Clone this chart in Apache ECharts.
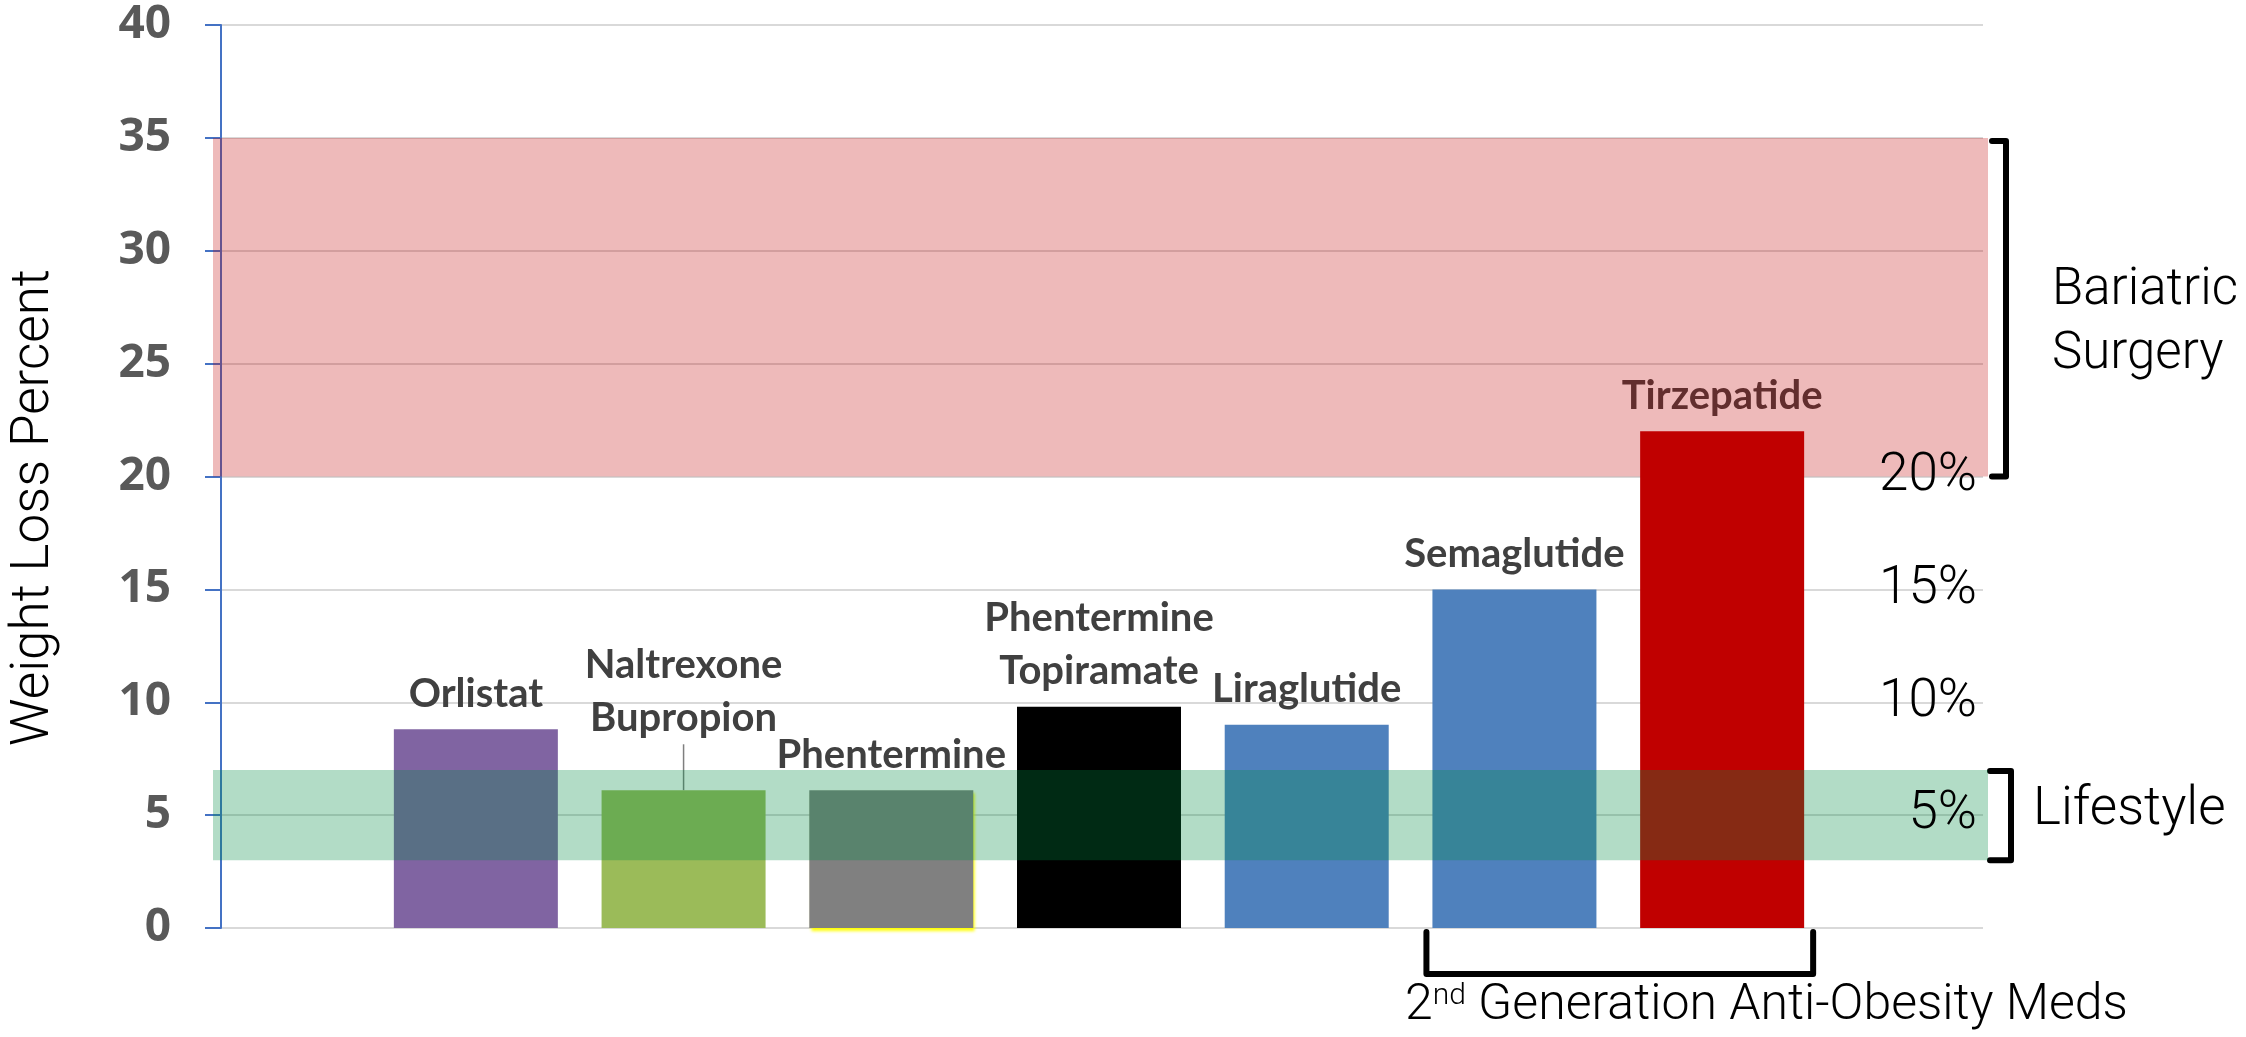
<!DOCTYPE html>
<html>
<head>
<meta charset="utf-8">
<script src="https://cdn.jsdelivr.net/npm/echarts@6/dist/echarts.min.js"></script>
<style>
  html, body { margin: 0; padding: 0; background: #fff; }
  #chart { width: 2246px; height: 1037px; }
</style>
</head>
<body>
<div id="chart"></div>
<script>
// 数据
const drugs = ['Orlistat', 'Naltrexone\nBupropion', 'Phentermine', 'Phentermine\nTopiramate', 'Liraglutide', 'Semaglutide', 'Tirzepatide'];
const lossPct = [8.8, 6.1, 6.1, 9.8, 9.0, 15.0, 22.0];
const barColors = ['#8064a2', '#9bbb59', '#808080', '#000000', '#4f81bd', '#4f81bd', '#c00000'];
const benchmarkPct = [5, 10, 15, 20];
const surgeryBand = [20, 35];
const lifestyleBand = [3, 7];
const yMin = 0, yMax = 40, yStep = 5;

const thinFont = 'Roboto';
const boldFont = 'Lato';

const chart = echarts.init(document.getElementById('chart'));

const barData = lossPct.map((v, i) => {
  const item = { value: v, itemStyle: { color: barColors[i] } };
  if (i === 1) {
    item.labelLine = { show: true, lineStyle: { color: '#7f7f7f', width: 1.5 } };
  }
  if (i === 2) {
    // 黄色描边
    item.itemStyle.shadowColor = '#ffff00';
    item.itemStyle.shadowBlur = 3;
    item.itemStyle.shadowOffsetX = 2;
    item.itemStyle.shadowOffsetY = 3;
  }
  return item;
});

const option = {
  animation: false,
  textStyle: { fontFamily: boldFont },
  grid: [
    { left: 216, right: 263, top: 25, bottom: 109 },  // 坐标轴 + 网格线
    { left: 372, right: 420, top: 25, bottom: 109 },  // 柱子
    { left: 213, right: 258, top: 25, bottom: 109 }   // 色带
  ],
  xAxis: [
    { gridIndex: 0, type: 'value', min: 0, max: 1, show: false },
    { gridIndex: 1, type: 'category', data: drugs, show: false },
    { gridIndex: 2, type: 'value', min: 0, max: 1, show: false }
  ],
  yAxis: [
    {
      gridIndex: 0, type: 'value', min: yMin, max: yMax, interval: yStep,
      name: 'Weight Loss Percent',
      nameLocation: 'middle',
      nameGap: 160,
      nameTextStyle: { fontFamily: thinFont, fontWeight: 300, fontSize: 53, color: '#000', padding: [0, 62, 0, 0] },
      axisLine: { show: true, lineStyle: { color: '#4472c4', width: 2 } },
      axisTick: { show: true, length: 16, lineStyle: { color: '#4472c4', width: 2 } },
      axisLabel: { margin: 50, fontFamily: 'Open Sans', fontWeight: 'bold', fontSize: 46, color: '#595959' },
      splitLine: { show: true, lineStyle: { color: '#d9d9d9', width: 2 } }
    },
    { gridIndex: 1, type: 'value', min: yMin, max: yMax, interval: yStep, show: false },
    { gridIndex: 2, type: 'value', min: yMin, max: yMax, interval: yStep, show: false },
    {
      gridIndex: 0, type: 'value', min: yMin, max: yMax, interval: yStep,
      position: 'right', z: 10,
      axisLine: { show: false },
      axisTick: { show: false },
      splitLine: { show: false },
      axisLabel: {
        inside: true, margin: 6,
        fontFamily: thinFont, fontWeight: 300, fontSize: 53, color: '#000',
        formatter: v => benchmarkPct.indexOf(v) >= 0 ? v + '%' : ''
      }
    }
  ],
  series: [
    {
      type: 'bar',
      xAxisIndex: 1, yAxisIndex: 1,
      z: 2,
      barWidth: 164,
      data: barData,
      label: {
        show: true,
        position: 'top',
        distance: 9,
        formatter: p => drugs[p.dataIndex],
        fontFamily: boldFont,
        fontWeight: 'bold',
        fontSize: 40,
        lineHeight: 53,
        color: '#404040'
      },
      labelLayout: p => (p.dataIndex === 1 ? { dy: -37 } : {})
    },
    {
      type: 'line',
      xAxisIndex: 2, yAxisIndex: 2,
      z: 5,
      data: [],
      silent: true,
      markArea: {
        silent: true,
        z: 10,
        data: [
          [
            { yAxis: surgeryBand[0], itemStyle: { color: 'rgba(192,0,0,0.27)' } },
            { yAxis: surgeryBand[1] }
          ],
          [
            { yAxis: lifestyleBand[0], itemStyle: { color: 'rgba(0,138,67,0.3)' } },
            { yAxis: lifestyleBand[1] }
          ]
        ]
      }
    }
  ]
};

chart.setOption(option);

// 括号和注释
const py = v => chart.convertToPixel({ yAxisIndex: 0 }, v);
const px = i => chart.convertToPixel({ xAxisIndex: 1 }, drugs[i]);
const bracketStyle = { stroke: '#000', lineWidth: 6, fill: null, lineJoin: 'round', lineCap: 'round' };
const yTop = py(surgeryBand[1]) + 3;
const yBot = py(surgeryBand[0]);
const lTop = py(lifestyleBand[1]) + 1;
const lBot = py(lifestyleBand[0]);
const y0 = py(0);
const bx0 = px(5) - 88;
const bx1 = px(6) + 91;

chart.setOption({
  graphic: [
    {
      type: 'polyline',
      shape: { points: [[1992, yTop], [2006, yTop], [2006, yBot], [1992, yBot]] },
      style: bracketStyle
    },
    {
      type: 'text',
      style: {
        x: 2052, y: (yTop + yBot) / 2 + 15,
        text: 'Bariatric\nSurgery',
        fontFamily: thinFont, fontWeight: 300, fontSize: 51, lineHeight: 64,
        fill: '#000', verticalAlign: 'middle', align: 'left'
      }
    },
    {
      type: 'polyline',
      shape: { points: [[1990, lTop], [2011, lTop], [2011, lBot], [1990, lBot]] },
      style: bracketStyle
    },
    {
      type: 'text',
      style: {
        x: 2033, y: (lTop + lBot) / 2 - 5,
        text: 'Lifestyle',
        fontFamily: thinFont, fontWeight: 300, fontSize: 53,
        fill: '#000', verticalAlign: 'middle', align: 'left'
      }
    },
    {
      type: 'polyline',
      shape: { points: [[bx0, y0 + 4], [bx0, y0 + 46], [bx1, y0 + 46], [bx1, y0 + 4]] },
      style: bracketStyle
    },
    {
      type: 'text',
      style: {
        x: 1405, y: 1006,
        text: '2{sup|nd} Generation Anti-Obesity Meds',
        fontFamily: thinFont, fontWeight: 300, fontSize: 50,
        fill: '#000', verticalAlign: 'middle', align: 'left',
        rich: {
          sup: { fontFamily: thinFont, fontWeight: 300, fontSize: 30, verticalAlign: 'top', padding: [0, 0, 18, 0] }
        }
      }
    }
  ]
});
</script>
</body>
</html>
